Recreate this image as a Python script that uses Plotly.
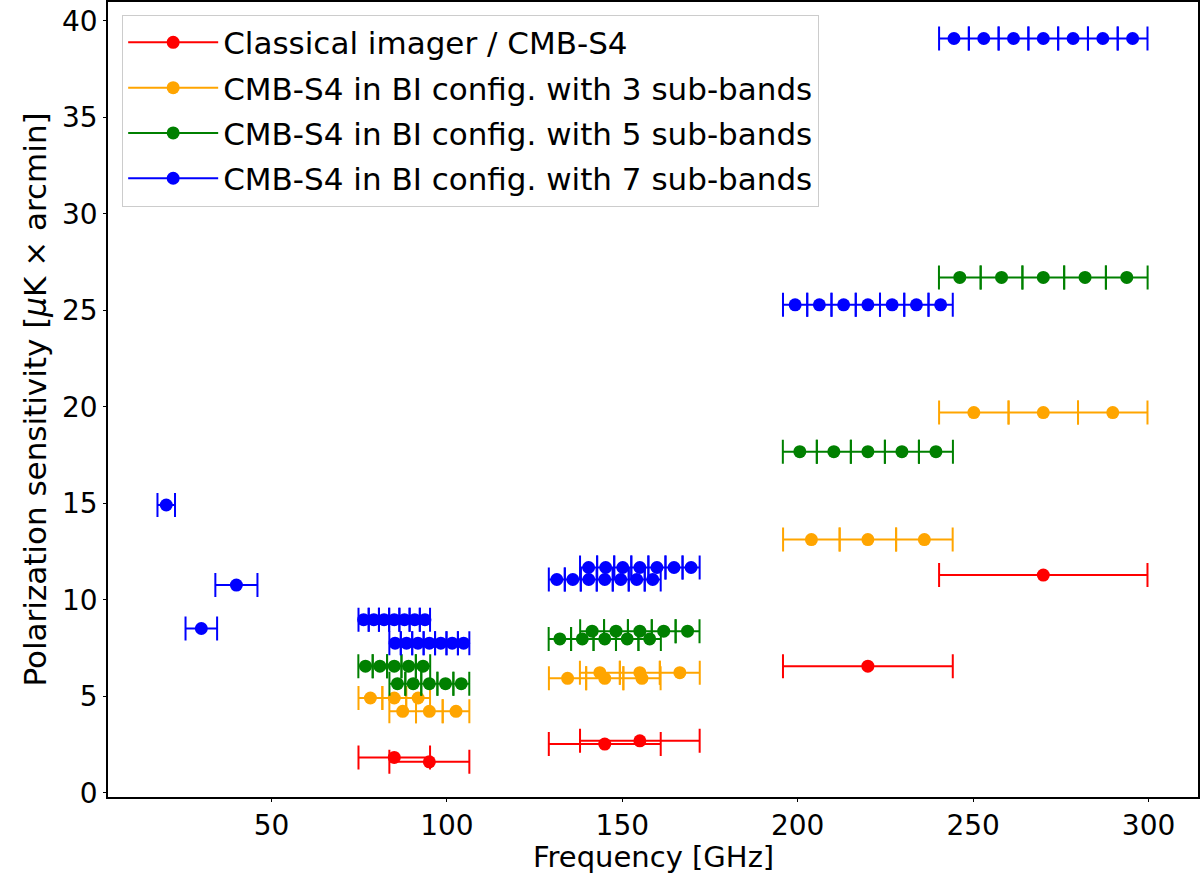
import plotly.graph_objects as go

# classical imager / CMB-S4 bands
classical_freq = [85, 95, 145, 155, 220, 270]
classical_half = [10.2, 11.4, 15.95, 17.05, 24.2, 29.7]
classical_sens = [1.83, 1.60, 2.52, 2.69, 6.56, 11.28]

# BI config, 3 sub-bands
sub3_freq = [78.2, 85.0, 91.8, 87.4, 95.0, 102.6,
             134.4, 145.0, 155.6, 143.6, 155.0, 166.4,
             203.9, 220.0, 236.1, 250.2, 270.0, 289.8]
sub3_half = [3.4, 3.4, 3.4, 3.8, 3.8, 3.8,
             5.32, 5.32, 5.32, 5.68, 5.68, 5.68,
             8.07, 8.07, 8.07, 9.9, 9.9, 9.9]
sub3_sens = [4.91, 4.91, 4.91, 4.22, 4.22, 4.22,
             5.93, 5.93, 5.93, 6.22, 6.22, 6.22,
             13.12, 13.12, 13.12, 19.7, 19.7, 19.7]

# BI config, 5 sub-bands
sub5_freq = [76.8, 80.9, 85.0, 89.1, 93.2, 85.9, 90.4, 95.0, 99.6, 104.1,
             132.2, 138.6, 145.0, 151.4, 157.8, 141.4, 148.2, 155.0, 161.8, 168.6,
             200.6, 210.3, 220.0, 229.7, 239.4, 246.2, 258.1, 270.0, 281.9, 293.8]
sub5_half = [2.04] * 5 + [2.28] * 5 + [3.19] * 5 + [3.41] * 5 + [4.84] * 5 + [5.94] * 5
sub5_sens = [6.56] * 5 + [5.65] * 5 + [7.97] * 5 + [8.37] * 5 + [17.67] * 5 + [26.70] * 5

# BI config, 7 sub-bands (plus the unsplit low-frequency bands)
sub7_freq = [20.0, 30.0, 40.0,
             76.26, 79.17, 82.09, 85.0, 87.91, 90.83, 93.74,
             85.23, 88.49, 91.74, 95.0, 98.26, 101.51, 104.77,
             131.33, 135.89, 140.44, 145.0, 149.56, 154.11, 158.67,
             140.39, 145.26, 150.13, 155.0, 159.87, 164.74, 169.61,
             199.26, 206.17, 213.09, 220.0, 226.91, 233.83, 240.74,
             244.54, 253.03, 261.51, 270.0, 278.49, 286.97, 295.46]
sub7_half = [2.5, 4.5, 6.0] + [1.457] * 7 + [1.629] * 7 + [2.279] * 7 + [2.436] * 7 + [3.457] * 7 + [4.243] * 7
sub7_sens = [14.91, 8.51, 10.76] + [8.97] * 7 + [7.75] * 7 + [11.05] * 7 + [11.67] * 7 + [25.28] * 7 + [39.08] * 7

series = [
    ("Classical imager / CMB-S4", "red", classical_freq, classical_half, classical_sens),
    ("CMB-S4 in BI config. with 3 sub-bands", "orange", sub3_freq, sub3_half, sub3_sens),
    ("CMB-S4 in BI config. with 5 sub-bands", "green", sub5_freq, sub5_half, sub5_sens),
    ("CMB-S4 in BI config. with 7 sub-bands", "blue", sub7_freq, sub7_half, sub7_sens),
]

fig = go.Figure()
for name, color, f, h, s in series:
    fig.add_trace(go.Scatter(
        x=f, y=s, mode="markers",
        marker=dict(color=color, size=13),
        error_x=dict(type="data", array=h, color=color, thickness=2, width=12),
        showlegend=False,
    ))
    # legend entry only
    fig.add_trace(go.Scatter(
        x=[None], y=[None], mode="lines+markers", name=name, legendgroup=name,
        marker=dict(color=color, size=13), line=dict(color=color, width=2),
    ))

tick_font = dict(family="DejaVu Sans", size=28, color="black")
title_font = dict(family="DejaVu Sans", size=31, color="black")
axis = dict(showline=True, linecolor="black", linewidth=1.5, mirror=True,
            ticks="outside", ticklen=3, tickcolor="black", showgrid=False,
            zeroline=False, tickfont=tick_font, automargin=False)

fig.update_layout(
    width=1200, height=874,
    margin=dict(l=108, r=2, t=2, b=77),
    plot_bgcolor="white", paper_bgcolor="white",
    font=tick_font,
    xaxis=dict(axis, range=[3.4, 314.1], tickvals=[50, 100, 150, 200, 250, 300]),
    yaxis=dict(axis, range=[-0.22, 40.97], tickvals=list(range(0, 41, 5)),
               title=dict(text="Polarization sensitivity [<i>μ</i>K × arcmin]", font=title_font, standoff=6)),
    legend=dict(x=0.013, y=0.984, xanchor="left", yanchor="top",
                bgcolor="white", bordercolor="#cccccc", borderwidth=1,
                font=dict(family="DejaVu Sans", size=31, color="black"),
                traceorder="grouped", tracegroupgap=2, itemwidth=90),
)

# x title as an annotation so it can sit just under the tick labels
fig.add_annotation(text="Frequency [GHz]", xref="paper", yref="paper",
                   x=0.5, y=0, yshift=-60, xanchor="center", yanchor="middle",
                   showarrow=False, font=dict(family="DejaVu Sans", size=29, color="black"))

# drop the default body margin so the figure sits at the page corner
fig.write_html("out.html", config={"displayModeBar": False},
               post_script="document.body.style.margin='0';")
